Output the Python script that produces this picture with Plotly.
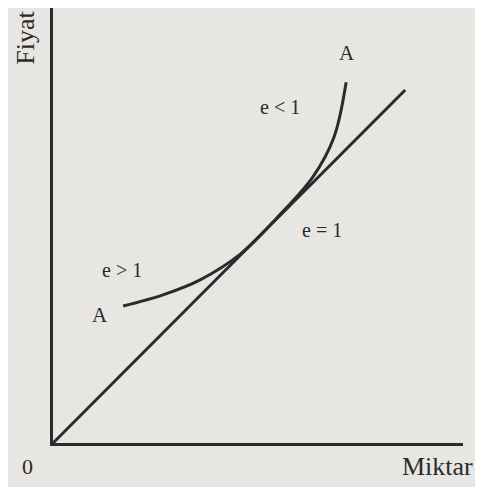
import plotly.graph_objects as go

# Straight line through origin (e = 1 ray)
line_x = [0.0, 8.59]
line_y = [0.0, 8.61]

# Curve A-A
curve_x = [1.71, 2.70, 3.59, 4.56, 5.46, 6.34, 6.85, 7.15]
curve_y = [3.34, 3.62, 3.98, 4.60, 5.49, 6.49, 7.45, 8.80]

# Text labels
labels = ["A", "e < 1", "e = 1", "e > 1", "A"]
label_x = [7.17, 5.54, 6.56, 1.68, 1.15]
label_y = [9.51, 8.20, 5.20, 4.22, 3.12]
label_size = [21, 20, 20, 20, 21]

x_title = "Miktar"
y_title = "Fiyat"
origin_label = "0"

ink = "#2b2b2b"
paper = "#e8e6e3"
font_family = "Liberation Serif, Times New Roman, serif"

fig = go.Figure()
fig.add_trace(go.Scatter(x=line_x, y=line_y, mode="lines",
                         line=dict(color=ink, width=3), hoverinfo="skip"))
fig.add_trace(go.Scatter(x=curve_x, y=curve_y, mode="lines",
                         line=dict(color=ink, width=3, shape="spline", smoothing=1.0),
                         hoverinfo="skip"))

for t, x, y, s in zip(labels, label_x, label_y, label_size):
    fig.add_annotation(x=x, y=y, text=t, showarrow=False,
                       xanchor="center", yanchor="middle",
                       font=dict(family=font_family, size=s, color=ink))

fig.add_annotation(xref="paper", yref="paper", x=0.937, y=-0.055, text=x_title,
                   showarrow=False, xanchor="center", yanchor="middle",
                   font=dict(family=font_family, size=26, color=ink))
fig.add_annotation(xref="paper", yref="paper", x=-0.063, y=-0.055, text=origin_label,
                   showarrow=False, xanchor="center", yanchor="middle",
                   font=dict(family=font_family, size=22, color=ink))
fig.add_annotation(xref="paper", yref="paper", x=-0.068, y=0.932, text=y_title,
                   showarrow=False, textangle=-90, xanchor="center", yanchor="middle",
                   font=dict(family=font_family, size=26, color=ink))

fig.update_xaxes(range=[0, 10], showgrid=False, zeroline=False, showticklabels=False,
                 ticks="", showline=True, linecolor=ink, linewidth=3, mirror=False)
fig.update_yaxes(range=[0, 10.61], showgrid=False, zeroline=False, showticklabels=False,
                 ticks="", showline=True, linecolor=ink, linewidth=3, mirror=False)

fig.update_layout(width=467, height=479, showlegend=False,
                  margin=dict(l=45, r=12, t=0, b=44),
                  paper_bgcolor=paper, plot_bgcolor=paper)

fig.write_html("out.html")
